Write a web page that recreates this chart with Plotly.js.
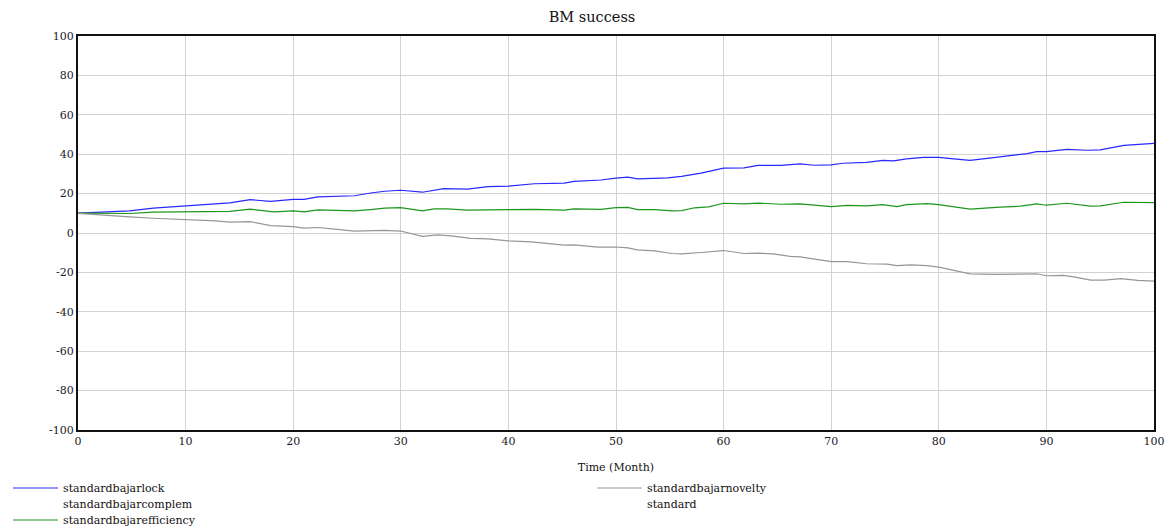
<!DOCTYPE html>
<html>
<head>
<meta charset="utf-8">
<script src="https://cdn.plot.ly/plotly-3.0.1.min.js"></script>
<style>html,body{margin:0;padding:0;background:#fff;}#chart{width:1167px;height:527px;}</style>
</head>
<body>
<div id="chart"></div>
<script>
// Month readings and values for each series
const lockMonths = [0, 2.3, 4.8, 7, 10, 11.6, 14.1, 16, 17.9, 20, 21, 22.3, 24.1, 25.7, 27.2, 28.5, 30, 32, 34, 36.2, 38.1, 40, 42.4, 45.2, 46.1, 48.6, 50, 51.1, 52, 54.8, 56.1, 57.9, 60, 61.9, 63.2, 65.3, 67.1, 68.4, 70, 71.1, 73.3, 74.8, 75.8, 77, 78.6, 80, 81.4, 82.9, 85.1, 86.7, 88.2, 89.1, 90, 91.9, 93.8, 95, 97.2, 100];
const lockValues = [10.1, 10.7, 11.2, 12.6, 13.8, 14.4, 15.3, 16.9, 16.1, 17.1, 17.1, 18.3, 18.8, 18.9, 20.3, 21.2, 21.7, 20.7, 22.5, 22.3, 23.5, 23.8, 25.0, 25.3, 26.2, 26.9, 27.9, 28.4, 27.5, 28.0, 28.7, 30.4, 32.9, 33.1, 34.3, 34.3, 35.1, 34.4, 34.6, 35.4, 35.9, 36.9, 36.6, 37.6, 38.4, 38.4, 37.6, 36.9, 38.3, 39.3, 40.3, 41.3, 41.3, 42.5, 42.0, 42.2, 44.5, 45.5];

const efficiencyMonths = [0, 2.3, 4.8, 7, 10, 14.1, 16, 18.2, 20, 21, 22.3, 24.1, 25.7, 27.2, 28.5, 30, 32, 33.1, 34.3, 36.2, 38.1, 40, 42.4, 45.2, 46.1, 48.6, 50, 51.1, 52, 53.6, 55.2, 56.1, 57.3, 58.6, 60, 61.9, 63.2, 65.3, 67.1, 70, 71.5, 73.3, 74.8, 76.1, 77, 78.9, 80, 82.9, 85.7, 87.6, 89.1, 90, 91.9, 94.1, 95, 97.2, 100];
const efficiencyValues = [10.1, 9.9, 9.9, 10.6, 10.9, 11.0, 12.1, 10.7, 11.2, 10.7, 11.7, 11.5, 11.2, 11.9, 12.6, 12.9, 11.2, 12.2, 12.2, 11.6, 11.9, 11.9, 12.0, 11.6, 12.2, 12.0, 12.9, 13.0, 11.9, 11.9, 11.2, 11.4, 12.8, 13.3, 15.1, 14.8, 15.2, 14.6, 14.8, 13.4, 14.0, 13.8, 14.4, 13.4, 14.4, 14.9, 14.4, 12.1, 13.1, 13.6, 14.8, 14.1, 15.1, 13.6, 13.8, 15.6, 15.4];

const noveltyMonths = [0, 2.3, 4.8, 7, 10, 11.6, 12.8, 14.1, 16, 17.9, 20, 21, 22.3, 24.1, 25.7, 28.5, 30, 32, 33.4, 34.7, 36.5, 38.1, 40, 42.1, 45.2, 46.1, 48.3, 50, 51.1, 52, 53.6, 55.2, 56.1, 57.9, 60, 61.9, 63.2, 64.6, 66.2, 67.1, 68.7, 70, 71.5, 73.3, 75.2, 76.1, 77.4, 78.9, 80, 81.4, 82.9, 85.1, 87.6, 89.1, 90, 91.6, 92.8, 94.1, 95.4, 96.9, 98.5, 100];
const noveltyValues = [10.0, 9.0, 8.2, 7.5, 7.0, 6.5, 6.2, 5.5, 5.8, 3.7, 3.2, 2.5, 2.8, 1.8, 1.0, 1.3, 1.0, -1.7, -1.0, -1.5, -2.7, -3.0, -4.0, -4.5, -6.2, -6.0, -7.2, -7.1, -7.6, -8.6, -9.1, -10.4, -10.6, -9.9, -8.9, -10.4, -10.2, -10.6, -11.9, -12.1, -13.6, -14.5, -14.5, -15.6, -15.8, -16.6, -16.2, -16.6, -17.3, -19.1, -20.7, -21.0, -21.0, -20.7, -21.7, -21.5, -22.5, -23.9, -23.9, -23.2, -24.0, -24.4];

// series with no visible line in the chart
const complemMonths = [0];
const complemValues = [null];
const standardMonths = [0];
const standardValues = [null];

const seriesNames = ["standardbajarlock", "standardbajarcomplem", "standardbajarefficiency", "standardbajarnovelty", "standard"];
const xTicks = [0, 10, 20, 30, 40, 50, 60, 70, 80, 90, 100];
const yTicks = [-100, -80, -60, -40, -20, 0, 20, 40, 60, 80, 100];

const serif = "DejaVu Serif";

const traces = [
  {x: lockMonths, y: lockValues, name: seriesNames[0], mode: "lines", line: {color: "rgb(40,40,255)", width: 1.2}, legend: "legend"},
  {x: complemMonths, y: complemValues, name: seriesNames[1], mode: "lines", line: {color: "rgba(0,0,0,0)", width: 1.2}, legend: "legend2"},
  {x: efficiencyMonths, y: efficiencyValues, name: seriesNames[2], mode: "lines", line: {color: "rgb(30,150,30)", width: 1.2}, legend: "legend3"},
  {x: noveltyMonths, y: noveltyValues, name: seriesNames[3], mode: "lines", line: {color: "rgb(150,150,150)", width: 1.2}, legend: "legend4"},
  {x: standardMonths, y: standardValues, name: seriesNames[4], mode: "lines", line: {color: "rgba(0,0,0,0)", width: 1.2}, legend: "legend5"}
];

function legendAt(px, py) {
  return {
    font: {family: serif, size: 11, color: "#111"},
    bgcolor: "rgba(0,0,0,0)",
    borderwidth: 0,
    xref: "container", yref: "container",
    x: px / 1167, y: 1 - py / 527,
    xanchor: "left", yanchor: "middle",
    itemwidth: 45
  };
}

const layout = {
  width: 1167,
  height: 527,
  margin: {l: 78, r: 13, t: 36, b: 97, autoexpand: false},
  paper_bgcolor: "#fff",
  plot_bgcolor: "#fff",
  title: {text: "BM success", font: {family: serif, size: 14.5, color: "#111"}, x: 592 / 1167, xref: "container", xanchor: "center", y: 1 - 17 / 527, yref: "container", yanchor: "middle"},
  xaxis: {
    range: [0, 100],
    tickvals: xTicks,
    ticktext: xTicks.map(String),
    showgrid: true, gridcolor: "#d2d2d2", gridwidth: 1,
    zeroline: false,
    showline: true, linecolor: "#111", linewidth: 2, mirror: true,
    ticks: "", ticklen: 0,
    tickfont: {family: serif, size: 11, color: "#1a1a2a"},
    title: {text: "Time (Month)", font: {family: serif, size: 11, color: "#111"}, standoff: 16}
  },
  yaxis: {
    range: [-100, 100],
    tickvals: yTicks,
    ticktext: yTicks.map(String),
    showgrid: true, gridcolor: "#d2d2d2", gridwidth: 1,
    zeroline: false,
    showline: true, linecolor: "#111", linewidth: 2, mirror: true,
    ticks: "", ticklen: 0,
    tickfont: {family: serif, size: 11, color: "#1a1a2a"}
  },
  legend: legendAt(8, 488),
  legend2: legendAt(8, 504),
  legend3: legendAt(8, 520),
  legend4: legendAt(592, 488),
  legend5: legendAt(592, 504),
  showlegend: true
};

Plotly.newPlot("chart", traces, layout, {displayModeBar: false, staticPlot: true});
</script>
</body>
</html>
